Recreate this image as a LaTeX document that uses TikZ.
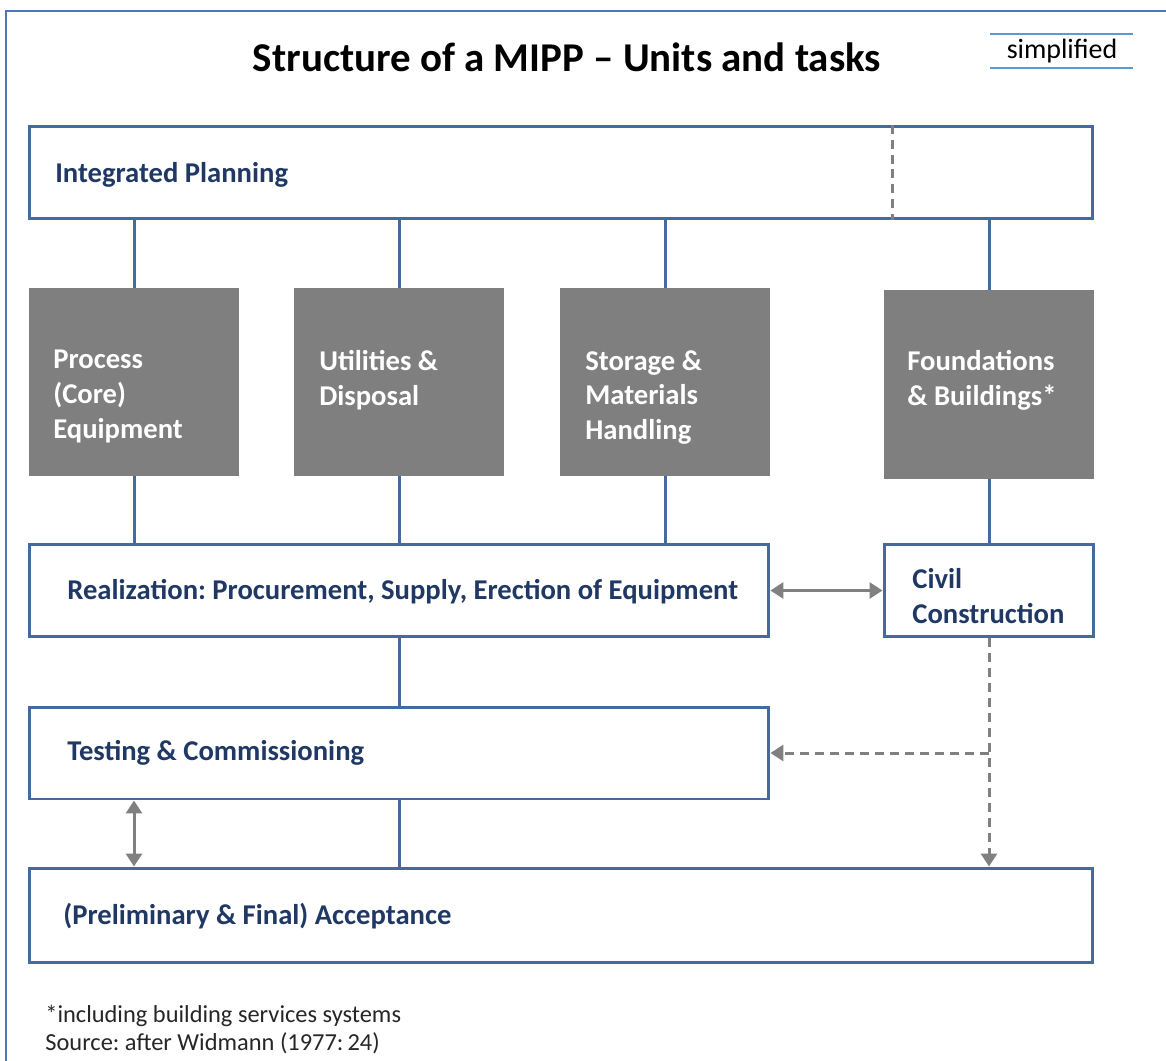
\documentclass[tikz,border=0pt]{standalone}
\usepackage{fontspec}
\setmainfont{Carlito}
\usepackage{tikz}
\usetikzlibrary{arrows.meta, positioning, calc}
\definecolor{BoxBlue}{RGB}{68,106,160}
\definecolor{FrameBlue}{RGB}{79,120,176}
\definecolor{LightBlue}{RGB}{91,155,213}
\definecolor{Navy}{RGB}{31,56,100}
\definecolor{BoxGray}{RGB}{127,127,127}
\definecolor{ArrGray}{RGB}{128,128,128}
\frenchspacing
\tikzset{
  taskbox/.style={draw=BoxBlue, line width=0.06cm, fill=white, minimum height=1.86cm, inner sep=0pt},
  unitbox/.style={fill=BoxGray, minimum width=4.2cm, minimum height=3.76cm, inner sep=0pt},
  tasktext/.style={text=Navy, font=\fontsize{16.3}{19.8}\selectfont\bfseries, inner sep=0pt, align=left},
  unittext/.style={text=white, font=\fontsize{16.3}{19.8}\selectfont\bfseries, inner sep=0pt, align=left, anchor=north west},
  link/.style={BoxBlue, line width=0.06cm},
  twoway/.style={ArrGray, line width=0.06cm, {Triangle[length=0.26cm,width=0.32cm]}-{Triangle[length=0.26cm,width=0.32cm]}},
  oneway/.style={ArrGray, line width=0.06cm, dash pattern=on 0.18cm off 0.12cm, -{Triangle[length=0.26cm,width=0.32cm]}},
}
\begin{document}
\begin{tikzpicture}[x=0.02cm, y=-0.02cm]
    \useasboundingbox (0,0) rectangle (1166,1061);
    \draw [FrameBlue, line width=0.04cm] (6,1061) -- (6,11) -- (1166,11);
    % title
    \node (title) at (567,57) {\fontsize{23.3}{28}\selectfont\bfseries Structure of a MIPP -- Units and tasks};
    \node (simp) at (1062,51) {\fontsize{15.9}{19}\selectfont simplified};
    \draw [LightBlue, line width=0.04cm] (990,34) -- (1133,34);
    \draw [LightBlue, line width=0.04cm] (990,68) -- (1133,68);
    % boxes
    \node [taskbox, minimum width=21.28cm] (plan) at (561,172.5) {};
    \node [unitbox] (proc) at (134,382) {};
    \node [unitbox] (util) at (399,382) {};
    \node [unitbox] (stor) at (665,382) {};
    \node [unitbox, minimum height=3.78cm] (fnd) at (989,384.5) {};
    \node [taskbox, minimum width=14.8cm] (real) at (399,590.5) {};
    \node [taskbox, minimum width=4.2cm] (civ) at (989,590.5) {};
    \node [taskbox, minimum width=14.8cm, minimum height=1.84cm] (test) at (399,753) {};
    \node [taskbox, minimum width=21.28cm, minimum height=1.88cm] (acc) at (561,915) {};
    % texts
    \node [tasktext, anchor=west] (plantxt) at (55,175) {Integrated Planning};
    \node [unittext] (proctxt) at (53,350) {Process\\(Core)\\Equipment};
    \node [unittext] (utiltxt) at (319,350) {Utilities \&\\Disposal};
    \node [unittext] (stortxt) at (585,350) {Storage \&\\Materials\\Handling};
    \node [unittext] (fndtxt) at (907,350) {Foundations\\\& Buildings*};
    \node [tasktext, anchor=west] (realtxt) at (67,592) {Realization: Procurement, Supply, Erection of Equipment};
    \node [tasktext, anchor=north west] (civtxt) at (912,568) {Civil\\Construction};
    \node [tasktext, anchor=west] (testtxt) at (67,753) {Testing \& Commissioning};
    \node [tasktext, anchor=west] (acctxt) at (63,916) {(Preliminary \& Final) Acceptance};
    \node [anchor=north west, inner sep=0pt, align=left, text=black!85, font=\fontsize{13.9}{15.9}\selectfont] (note) at (45,1005) {*including building services systems\\Source: after Widmann (1977:\,24)};
    % connectors
    \draw [ArrGray, line width=0.06cm, dash pattern=on 0.18cm off 0.12cm] (892,0 |- plan.north) -- (892,0 |- plan.south);
    \foreach \u in {proc, util, stor, fnd} {
        \draw [link] (plan.south -| \u.north) -- (\u.north);
    }
    \foreach \u in {proc, util, stor} {
        \draw [link] (\u.south) -- (\u.south |- real.north);
    }
    \draw [link] (fnd.south) -- (civ.north);
    \draw [link] (real.south) -- (test.north);
    \draw [link] (test.south) -- (test.south |- acc.north);
    \draw [twoway] (real.east) -- (civ.west);
    \coordinate (ta) at (test.south -| proc.south);
    \draw [twoway] (ta) -- (ta |- acc.north);
    \coordinate (cb) at (civ.south |- test.east);
    \draw [oneway] (civ.south) -- (civ.south |- acc.north);
    \draw [oneway] (cb) -- (test.east);
\end{tikzpicture}
\end{document}
